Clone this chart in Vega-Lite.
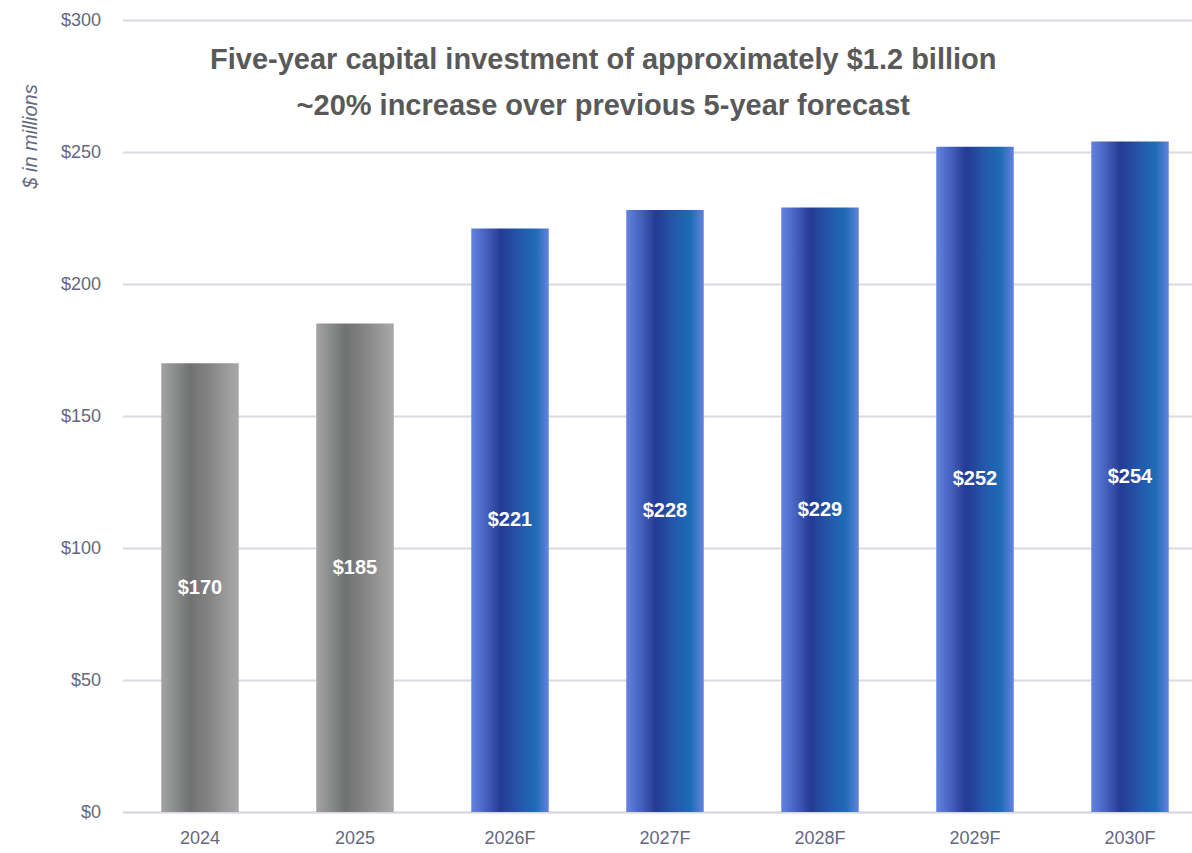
{
  "$schema": "https://vega.github.io/schema/vega-lite/v6.json",
  "autosize": "none",
  "width": 1069.5,
  "height": 792,
  "padding": {"left": 122.5, "top": 20, "right": 0, "bottom": 41},
  "background": "white",
  "view": {"stroke": null},
  "title": {
    "text": ["Five-year capital investment of approximately $1.2 billion", "~20% increase over previous 5-year forecast"],
    "anchor": "middle",
    "orient": "top",
    "offset": -48,
    "dx": -54,
    "dy": 62,
    "baseline": "top",
    "font": "Liberation Sans",
    "fontSize": 29,
    "fontWeight": "bold",
    "color": "#595959",
    "lineHeight": 46
  },
  "data": {
    "values": [
      {"year": "2024", "value": 170, "label": "$170", "kind": "actual"},
      {"year": "2025", "value": 185, "label": "$185", "kind": "actual"},
      {"year": "2026F", "value": 221, "label": "$221", "kind": "forecast"},
      {"year": "2027F", "value": 228, "label": "$228", "kind": "forecast"},
      {"year": "2028F", "value": 229, "label": "$229", "kind": "forecast"},
      {"year": "2029F", "value": 252, "label": "$252", "kind": "forecast"},
      {"year": "2030F", "value": 254, "label": "$254", "kind": "forecast"}
    ]
  },
  "encoding": {
    "x": {
      "field": "year",
      "type": "nominal",
      "sort": null,
      "scale": {"paddingInner": 0.5, "paddingOuter": 0.2, "align": 0.625},
      "axis": {
        "title": null,
        "labelAngle": 0,
        "labelFont": "Liberation Sans",
        "labelFontSize": 18,
        "labelColor": "#646880",
        "labelPadding": 17,
        "ticks": false,
        "domainColor": "#d9d9e1",
        "domainWidth": 2,
        "grid": false
      }
    }
  },
  "layer": [
    {
      "transform": [{"filter": "datum.kind == 'actual'"}],
      "mark": {
        "type": "bar",
        "color": {
          "gradient": "linear", "x1": 0, "x2": 1, "y1": 0, "y2": 0,
          "stops": [
            {"offset": 0, "color": "#a4a4a4"},
            {"offset": 0.15, "color": "#8e8f8f"},
            {"offset": 0.38, "color": "#707271"},
            {"offset": 0.62, "color": "#848484"},
            {"offset": 0.85, "color": "#9b9b9b"},
            {"offset": 1, "color": "#a8a8a8"}
          ]
        }
      },
      "encoding": {
        "y": {
          "field": "value",
          "type": "quantitative",
          "scale": {"domain": [0, 300]},
          "axis": {
            "title": "$ in millions",
            "titleFont": "Liberation Sans",
            "titleFontStyle": "italic",
            "titleFontWeight": "normal",
            "titleFontSize": 20,
            "titleColor": "#646880",
            "titleAngle": -90,
            "titleX": -92,
            "titleY": 116,
            "titleAlign": "center",
            "titleBaseline": "middle",
            "values": [0, 50, 100, 150, 200, 250, 300],
            "labelExpr": "'$' + datum.value",
            "labelFont": "Liberation Sans",
            "labelFontSize": 18,
            "labelColor": "#646880",
            "labelPadding": 22,
            "ticks": false,
            "domain": false,
            "gridColor": "#d9d9e1",
            "gridWidth": 2
          }
        }
      }
    },
    {
      "transform": [{"filter": "datum.kind == 'forecast'"}],
      "mark": {
        "type": "bar",
        "color": {
          "gradient": "linear", "x1": 0, "x2": 1, "y1": 0, "y2": 0,
          "stops": [
            {"offset": 0, "color": "#6383de"},
            {"offset": 0.15, "color": "#4c68c6"},
            {"offset": 0.38, "color": "#243b94"},
            {"offset": 0.62, "color": "#2457aa"},
            {"offset": 0.83, "color": "#1e6cb5"},
            {"offset": 1, "color": "#6383df"}
          ]
        }
      },
      "encoding": {
        "y": {"field": "value", "type": "quantitative"}
      }
    },
    {
      "transform": [{"calculate": "datum.value / 2", "as": "mid"}],
      "mark": {
        "type": "text",
        "font": "Liberation Sans",
        "fontSize": 20,
        "fontWeight": "bold",
        "color": "white",
        "baseline": "middle",
        "align": "center"
      },
      "encoding": {
        "y": {"field": "mid", "type": "quantitative"},
        "text": {"field": "label"}
      }
    }
  ]
}
